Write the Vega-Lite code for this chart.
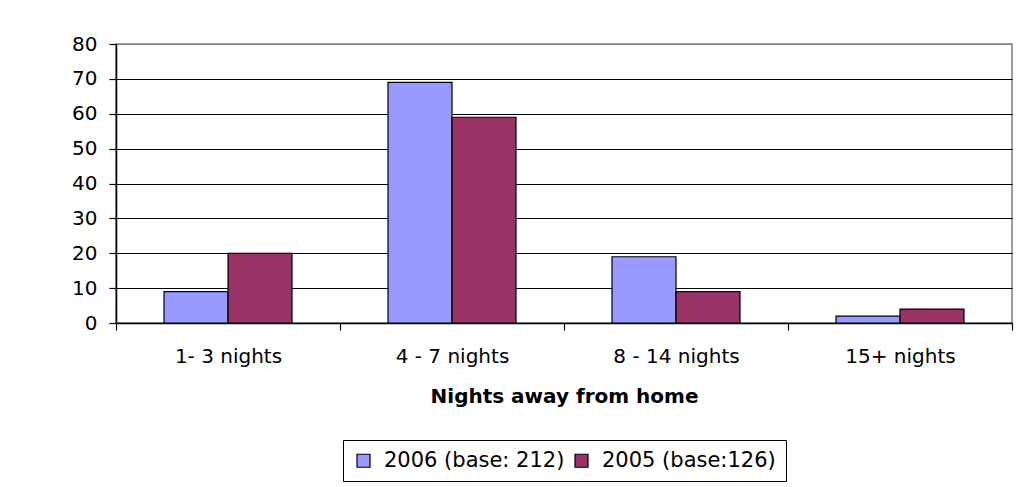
{
  "$schema": "https://vega.github.io/schema/vega-lite/v6.json",
  "width": 896,
  "height": 279,
  "autosize": {"type": "none"},
  "padding": {"left": 116, "top": 44, "right": 16, "bottom": 164},
  "background": "white",
  "config": {
    "font": "DejaVu Sans",
    "view": {"stroke": "#808080", "strokeWidth": 1.5},
    "axis": {"labelColor": "black", "titleColor": "black", "domainColor": "black", "tickColor": "black"}
  },
  "data": {
    "values": [
      {"nights": "1- 3 nights", "series": "2006 (base: 212)", "value": 9},
      {"nights": "1- 3 nights", "series": "2005 (base:126)", "value": 20},
      {"nights": "4 - 7 nights", "series": "2006 (base: 212)", "value": 69},
      {"nights": "4 - 7 nights", "series": "2005 (base:126)", "value": 59},
      {"nights": "8 - 14 nights", "series": "2006 (base: 212)", "value": 19},
      {"nights": "8 - 14 nights", "series": "2005 (base:126)", "value": 9},
      {"nights": "15+ nights", "series": "2006 (base: 212)", "value": 2},
      {"nights": "15+ nights", "series": "2005 (base:126)", "value": 4}
    ]
  },
  "mark": {"type": "bar", "stroke": "black", "strokeWidth": 1.2},
  "encoding": {
    "x": {
      "field": "nights",
      "type": "nominal",
      "sort": ["1- 3 nights", "4 - 7 nights", "8 - 14 nights", "15+ nights"],
      "scale": {"paddingInner": 0, "paddingOuter": 0},
      "axis": {
        "title": "Nights away from home",
        "titleFontSize": 20,
        "titleFontWeight": "bold",
        "titlePadding": 20,
        "labelFontSize": 20,
        "labelFontWeight": "normal",
        "labelAngle": 0,
        "labelPadding": 16,
        "tickSize": 7,
        "tickBand": "extent",
        "domainWidth": 1.5,
        "tickWidth": 1.2
      }
    },
    "xOffset": {
      "field": "series",
      "type": "nominal",
      "sort": ["2006 (base: 212)", "2005 (base:126)"],
      "scale": {"paddingInner": 0, "paddingOuter": 0.75}
    },
    "y": {
      "field": "value",
      "type": "quantitative",
      "scale": {"domain": [0, 80], "nice": false},
      "axis": {
        "title": null,
        "values": [0, 10, 20, 30, 40, 50, 60, 70, 80],
        "labelFontSize": 20,
        "labelPadding": 12,
        "tickSize": 7,
        "domainWidth": 1.5,
        "tickWidth": 1.2,
        "grid": true,
        "gridColor": {"condition": {"test": "datum.value === 80", "value": "#808080"}, "value": "black"},
        "gridWidth": 1.2
      }
    },
    "color": {
      "field": "series",
      "type": "nominal",
      "sort": ["2006 (base: 212)", "2005 (base:126)"],
      "scale": {"range": ["#9999FF", "#993366"]},
      "legend": {
        "title": null,
        "orient": "none",
        "legendX": 227,
        "legendY": 396,
        "direction": "horizontal",
        "symbolType": "square",
        "symbolSize": 169,
        "symbolStrokeColor": "black",
        "symbolStrokeWidth": 1.2,
        "symbolOpacity": 1,
        "labelFontSize": 21,
        "labelLimit": 400,
        "labelColor": "black",
        "labelOffset": 10,
        "columnPadding": 6,
        "padding": 10,
        "strokeColor": "black",
        "fillColor": "white"
      }
    }
  }
}
